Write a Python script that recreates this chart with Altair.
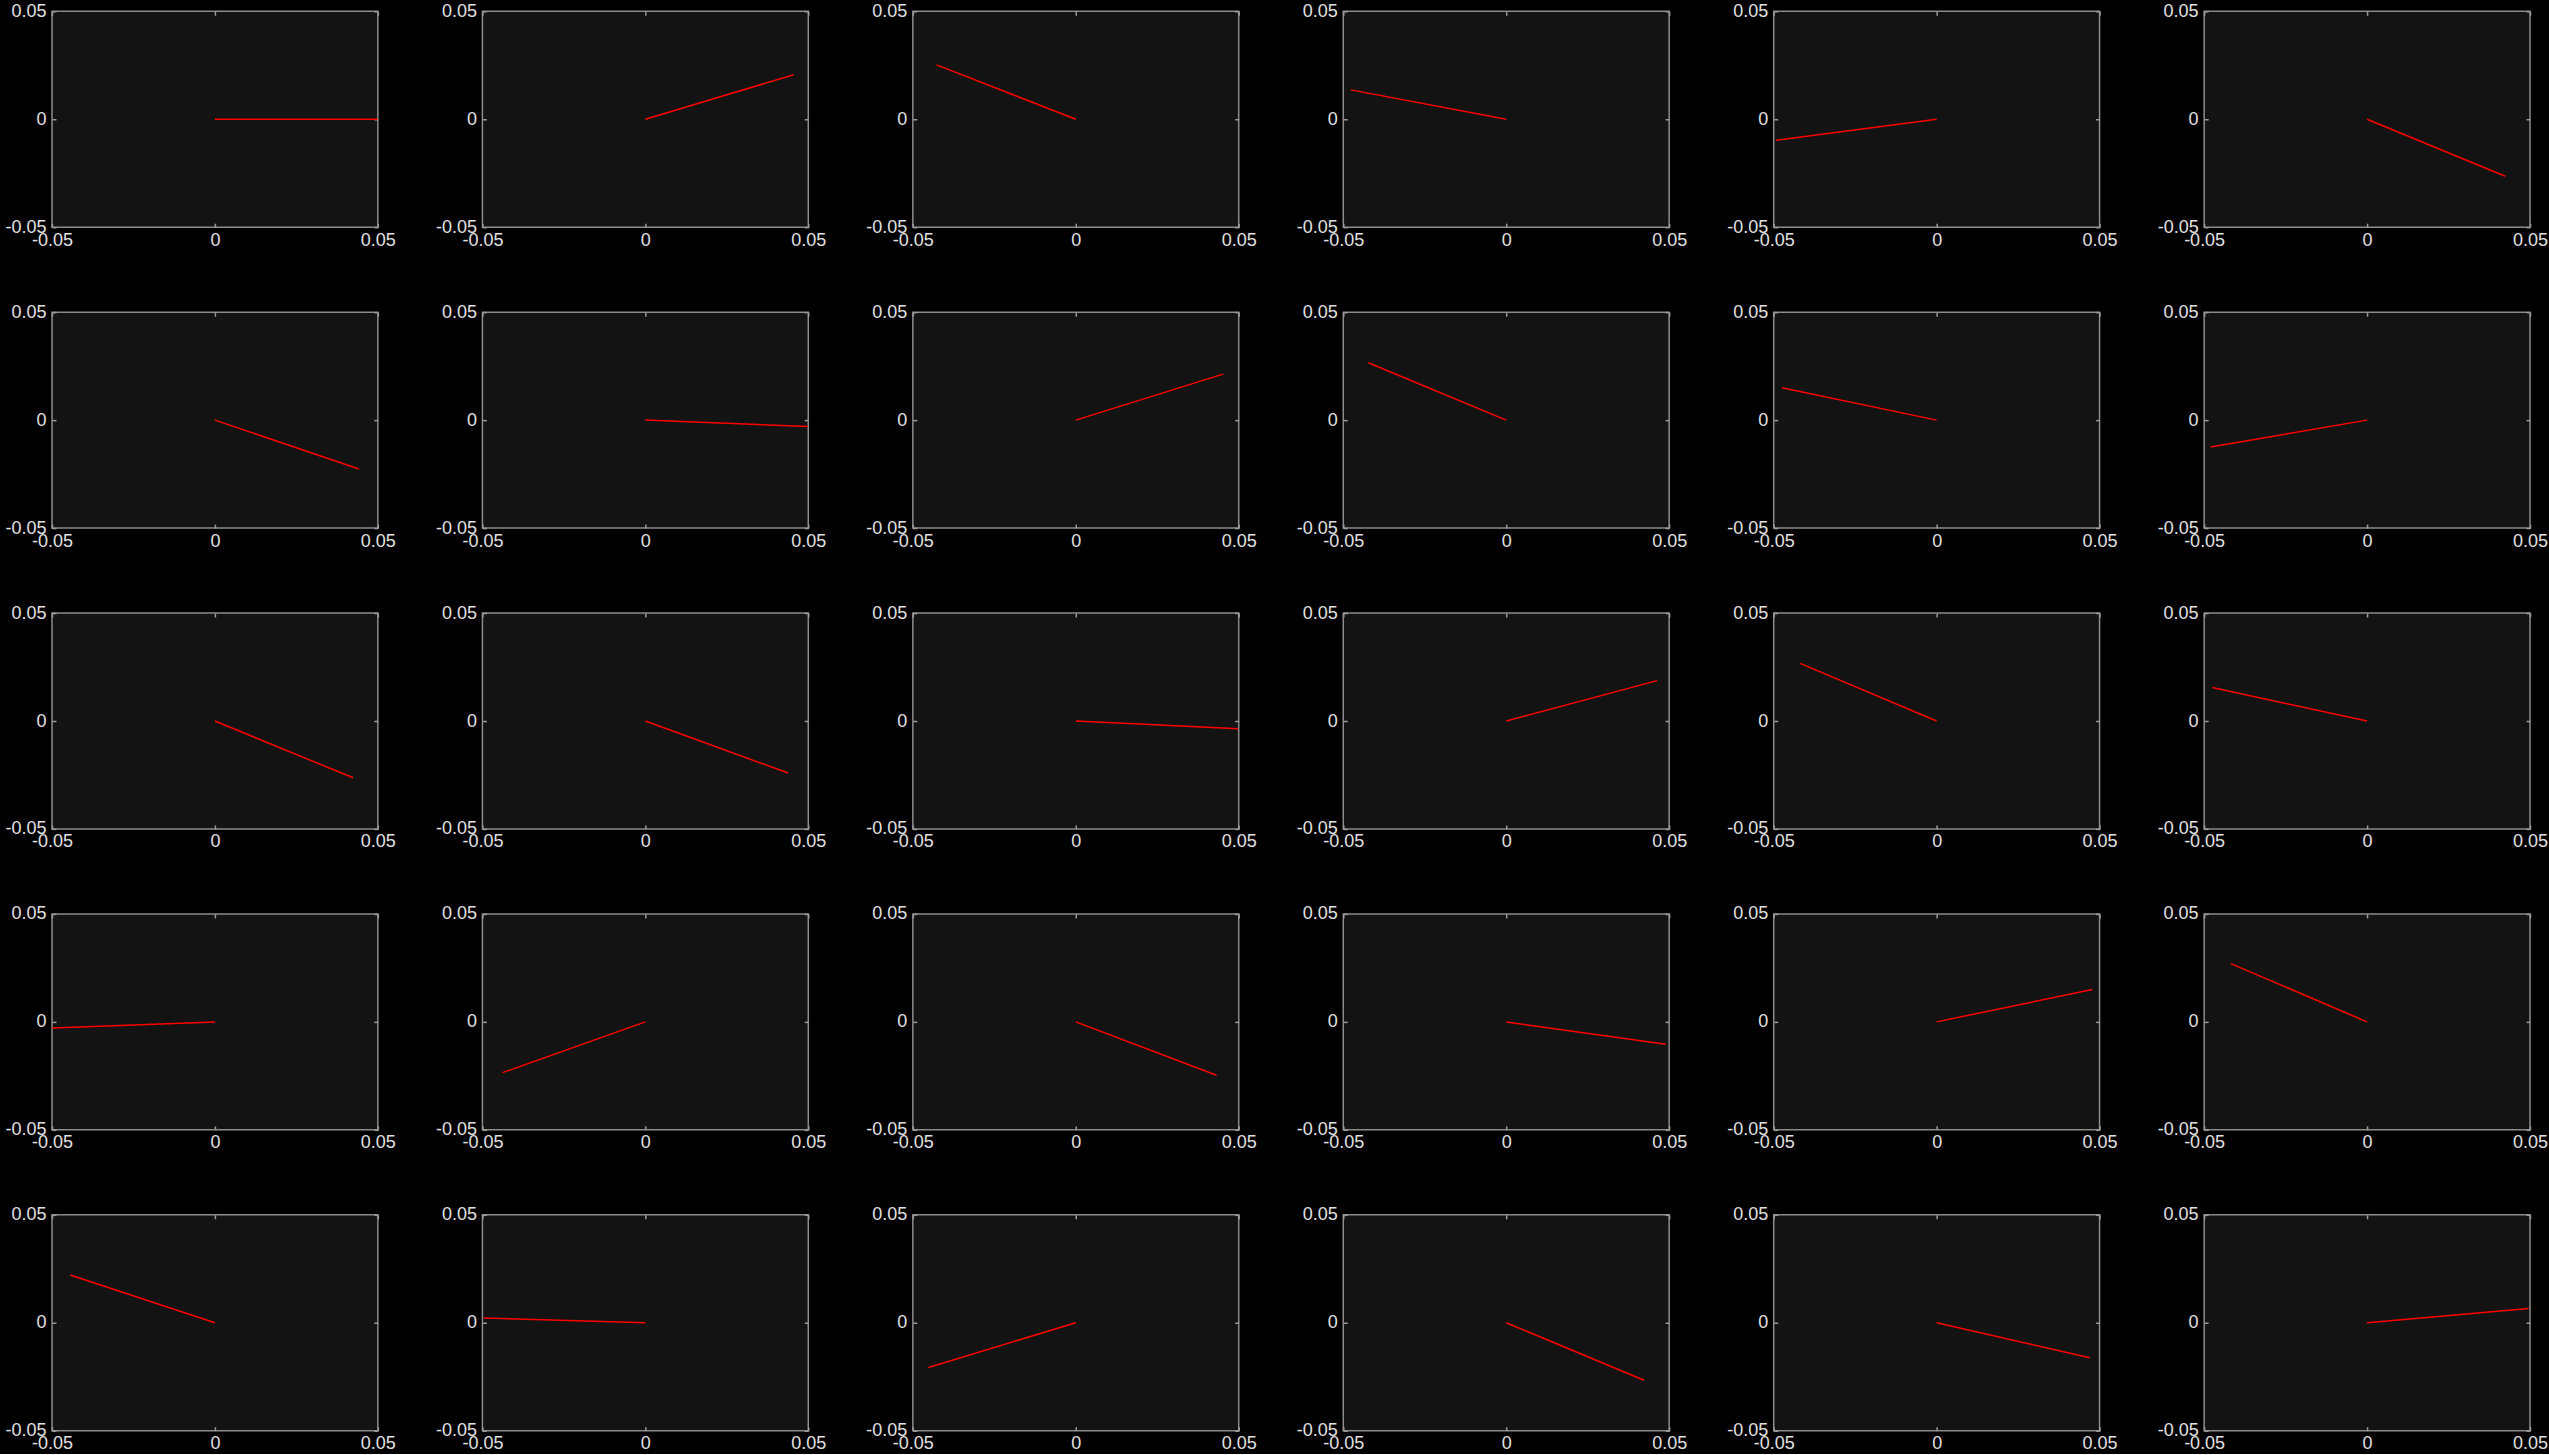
import altair as alt
import pandas as pd

# End points of the 30 red segments (each starts at the origin), row by row
end_x = [0.0500, 0.0455, -0.0427, -0.0477, -0.0493, 0.0424,
         0.0442, 0.0499, 0.0452, -0.0423, -0.0475, -0.0480,
         0.0424, 0.0438, 0.0499, 0.0463, -0.0419, -0.0475,
         -0.0499, -0.0438, 0.0432, 0.0490, 0.0478, -0.0418,
         -0.0444, -0.0496, -0.0452, 0.0423, 0.0470, 0.0496]
end_y = [0.0000, 0.0206, 0.0252, 0.0136, -0.0097, -0.0264,
         -0.0226, -0.0030, 0.0213, 0.0266, 0.0150, -0.0124,
         -0.0263, -0.0241, -0.0036, 0.0187, 0.0267, 0.0155,
         -0.0028, -0.0235, -0.0247, -0.0104, 0.0150, 0.0270,
         0.0221, 0.0022, -0.0207, -0.0266, -0.0162, 0.0066]

tick_values = [-0.05, 0, 0.05]
tick_labels = ["-0.05", "0", "0.05"]
axis_domain = [-0.05, 0.05]
n_cols = 6

rows = []
for i, (ex, ey) in enumerate(zip(end_x, end_y)):
    rows.append({"panel": i, "step": 0, "x": 0.0, "y": 0.0})
    rows.append({"panel": i, "step": 1, "x": ex, "y": ey})
df = pd.DataFrame(rows)

label_expr = " : ".join(
    f"datum.value == {v} ? '{t}'" for v, t in zip(tick_values, tick_labels)
) + " : ''"

xs = alt.Scale(domain=axis_domain, nice=False, zero=False)
ys = alt.Scale(domain=axis_domain, nice=False, zero=False)

def make_axis(orient, labels=True, pad=4):
    kw = dict(orient=orient, values=tick_values, offset=-4, tickSize=4,
              grid=False, domain=False, title=None, labels=labels)
    if labels:
        kw.update(labelExpr=label_expr, labelPadding=pad)
    return alt.Axis(**kw)

def panel(i):
    base = alt.Chart(df).transform_filter(alt.datum.panel == i)
    mirror = base.mark_line(opacity=0).encode(
        x=alt.X("x:Q", scale=xs, axis=make_axis("top", labels=False)),
        y=alt.Y("y:Q", scale=ys, axis=make_axis("right", labels=False)),
        order="step:O",
    )
    line = base.mark_line(color="#ff0000", strokeWidth=1.5, clip=True).encode(
        x=alt.X("x:Q", scale=xs, axis=make_axis("bottom", pad=4)),
        y=alt.Y("y:Q", scale=ys, axis=make_axis("left", pad=6)),
        order="step:O",
    )
    return (
        alt.layer(mirror, line)
        .resolve_axis(x="independent", y="independent")
        .properties(width=326, height=216)
    )

chart = (
    alt.concat(*[panel(i) for i in range(len(end_x))], columns=n_cols,
               spacing=alt.RowColnumber(row=85, column=104.6), bounds="flush")
    .configure(background="black", padding={"left": 4, "top": 1, "right": 0, "bottom": 0})
    .configure_view(stroke="#8c8c8c", strokeWidth=1.5, fill="#131313")
    .configure_axis(
        labelFont="Liberation Sans", labelFontSize=18, labelColor="#e0e0e0",
        tickColor="#9a9a9a", tickWidth=1.5, labelFlush=False, labelOverlap=False,
    )
)

chart.save("out.html", embed_options={"renderer": "svg", "actions": False})
